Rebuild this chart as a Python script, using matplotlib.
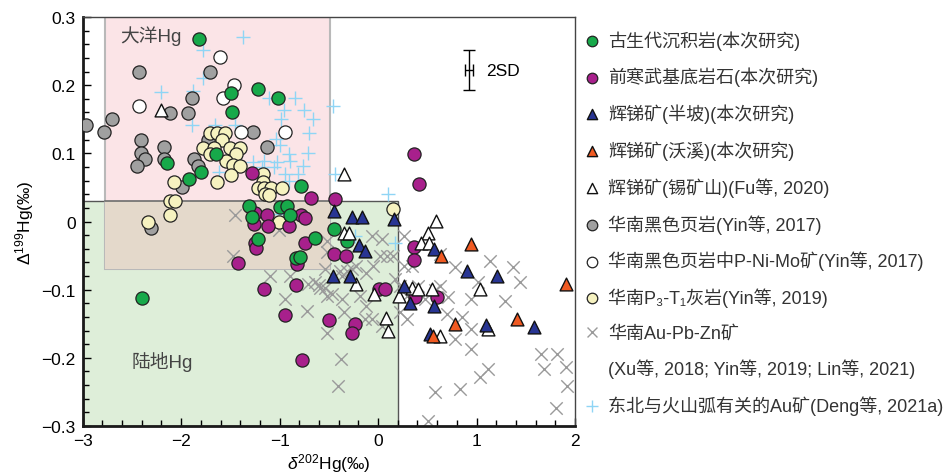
import matplotlib
matplotlib.use("Agg")
import matplotlib.pyplot as plt
from matplotlib.patches import Rectangle
from matplotlib.lines import Line2D
from matplotlib.ticker import MultipleLocator, FuncFormatter

plt.rcParams['font.family'] = ['Liberation Sans', 'Noto Sans CJK SC', 'DejaVu Sans']
plt.rcParams['mathtext.fontset'] = 'custom'
plt.rcParams['mathtext.rm'] = 'Liberation Sans'
plt.rcParams['mathtext.it'] = 'Liberation Sans:italic'

# 古生代沉积岩(本次研究)
green_x = [-1.82, -1.49, -1.22, -1.02, -1.48, -1.65, -2.14, -1.80, -1.92, -0.78, -1.31, -1.28,
           -1.00, -0.93, -0.89, -1.22, -0.64, -0.83, -0.79, -2.40, -0.45, -0.32]
green_y = [0.268, 0.189, 0.195, 0.181, 0.160, 0.099, 0.086, 0.073, 0.062, 0.052, 0.023, 0.006,
           0.021, 0.023, 0.009, -0.025, -0.024, -0.054, -0.052, -0.112, -0.011, -0.029]

# 前寒武基底岩石(本次研究)
mag_x = [-1.28, -0.68, -0.44, 0.36, 0.42, -1.25, -1.26, -1.13, -1.12, -0.90, -0.78, -0.74,
         -1.25, -1.24, -0.74, -0.82, -1.42, -0.45, -0.33, -1.16, -0.83, -0.95, -0.50, -0.23,
         -0.27, 0.01, 0.07, 0.36, 0.36, 0.37, 0.60, -0.77]
mag_y = [0.071, 0.034, 0.033, 0.099, 0.055, 0.013, -0.004, 0.010, -0.007, -0.006, 0.010, 0.005,
         -0.031, -0.039, -0.031, -0.062, -0.061, -0.048, -0.051, -0.099, -0.093, -0.137, -0.144, -0.151,
         -0.164, -0.099, -0.099, -0.037, -0.056, -0.111, -0.111, -0.203]

# 辉锑矿(半坡)(本次研究)
bp_x = [-0.45, -0.27, -0.16, 0.16, -0.19, -0.13, -0.46, -0.29, 0.26, 0.57, 0.32, 0.57, 0.53,
        1.21, 0.90, 1.10, 1.58]
bp_y = [0.016, 0.006, 0.006, 0.003, -0.034, -0.043, -0.080, -0.080, -0.094, -0.040, -0.119, -0.124, -0.165,
        -0.080, -0.073, -0.152, -0.155]

# 辉锑矿(沃溪)(本次研究)
wx_x = [0.64, 0.94, 1.91, 1.41, 0.78, 0.56]
wx_y = [-0.051, -0.033, -0.092, -0.143, -0.150, -0.168]

# 辉锑矿(锡矿山)(Fu等, 2020)
xks_x = [-2.21, -0.35, 0.59, 0.51, 0.44, 0.52, -0.35, -0.30, -0.22, -0.04, 0.21, 0.34, 0.41,
         0.55, 0.08, 0.10, 0.63, 1.04, 1.12]
xks_y = [0.163, 0.070, 0.001, -0.017, -0.031, -0.031, -0.017, -0.017, -0.092, -0.106, -0.109, -0.097, -0.099,
         -0.099, -0.141, -0.160, -0.168, -0.099, -0.157]

# 华南黑色页岩(Yin等, 2017)
shale_x = [-2.97, -2.78, -2.70, -2.43, -2.41, -2.41, -2.37, -2.45, -2.17, -2.17, -2.11, -1.93,
           -1.89, -1.71, -1.87, -1.83, -1.73, -1.99, -1.27, -1.13, -2.31]
shale_y = [0.141, 0.131, 0.150, 0.220, 0.120, 0.100, 0.091, 0.082, 0.110, 0.091, 0.159, 0.159,
           0.181, 0.220, 0.091, 0.082, 0.120, 0.050, 0.131, 0.110, -0.010]

# 华南黑色页岩中P-Ni-Mo矿(Yin等, 2017)
pnimo_x = [-1.61, -1.46, -1.58, -2.43, -1.39, -0.95]
pnimo_y = [0.241, 0.200, 0.181, 0.169, 0.131, 0.131]

# 华南P3-T1灰岩(Yin等, 2019)
lime_x = [-1.71, -1.64, -1.55, -1.59, -1.78, -1.67, -1.50, -1.40, -1.71, -1.44, -1.54, -1.47,
          -1.40, -1.49, -1.64, -2.07, -1.17, -1.17, -1.22, -1.16, -1.09, -0.98, -1.15, -1.11,
          -2.11, -2.06, -2.11, -2.34, -1.01, 0.15]
lime_y = [0.130, 0.130, 0.130, 0.119, 0.108, 0.108, 0.108, 0.108, 0.099, 0.099, 0.089, 0.083,
          0.081, 0.068, 0.058, 0.058, 0.069, 0.058, 0.049, 0.049, 0.049, 0.049, 0.040, 0.039,
          0.030, 0.030, 0.009, -0.001, -0.001, 0.018]

# 华南Au-Pb-Zn矿
aupbzn_x = [-1.45, -1.47, -1.10, -0.89, -0.95, -0.72, -1.01, -0.54, -0.64, -0.52, -0.52, -0.54,
            -0.39, -0.71, -0.60, -0.52, -0.37, -0.32, -0.27, -0.22, -0.12, -0.05, 0.02, 0.09,
            0.15, -0.06, 0.04, 0.26, 0.17, 0.22, 0.29, 0.34, 0.26, 0.41, 0.63, 0.58, 0.71,
            -0.18, -0.12, -0.06, 0.22, 0.29, -0.35, -0.59, -0.47, -0.37, -0.13, 0.04, -0.52,
            -0.41, -0.38, 0.51, 1.81, 0.63, 0.78, 1.01, 1.14, 1.37, 1.44, 1.29, 0.94, 0.85,
            0.70, 0.94, 1.12, 0.83, 1.04, 0.58, 1.65, 1.82, 1.91, 1.92, 1.68, 0.34, 0.48,
            0.94, 0.78]
aupbzn_y = [0.009, -0.051, -0.080, -0.080, -0.114, -0.131, -0.012, -0.097, -0.089, -0.028, -0.045, -0.070,
            -0.072, -0.092, -0.093, -0.109, -0.080, -0.072, -0.070, -0.065, -0.075, -0.065, -0.050, -0.050,
            -0.050, -0.021, -0.026, -0.021, -0.084, -0.094, -0.109, -0.065, -0.065, -0.094, -0.094, -0.101, -0.111,
            -0.109, -0.124, -0.143, -0.133, -0.143, -0.133, -0.097, -0.106, -0.114, -0.143, -0.153, -0.163,
            -0.241, -0.202, -0.293, -0.273, -0.048, -0.067, -0.089, -0.058, -0.067, -0.089, -0.117, -0.114, -0.140,
            -0.136, -0.187, -0.216, -0.246, -0.228, -0.250, -0.194, -0.194, -0.213, -0.241, -0.216, -0.111, -0.114,
            -0.158, -0.172]

# 东北与火山弧有关的Au矿(Deng等, 2021a)
ne_x = [-1.37, -1.78, -1.78, -2.20, -1.88, -1.11, -0.84, -0.96, -0.75, -0.66, -0.46, -1.89,
        -1.66, -1.45, -0.99, -0.70, -1.04, -1.00, -0.91, -0.71, -1.27, -1.16, -1.03, -0.89,
        -1.18, -1.06, -0.76, -0.95, -0.81, -0.91, -1.62, -0.44, 0.10, 0.17, -0.23, -1.00]
ne_y = [0.270, 0.251, 0.210, 0.190, 0.192, 0.181, 0.181, 0.163, 0.163, 0.150, 0.170, 0.141,
        0.141, 0.141, 0.150, 0.130, 0.121, 0.112, 0.099, 0.100, 0.088, 0.089, 0.088, 0.089,
        0.080, 0.080, 0.081, 0.070, 0.070, 0.060, 0.072, 0.070, 0.040, -0.031, -0.021, 0.011]

# source fields
ocean_box = (-2.77, -0.49, -0.07, 0.30)
land_box = (-3.0, 0.20, -0.30, 0.03)

fig = plt.figure(figsize=(9.52, 4.77), dpi=100)
ax = fig.add_axes([0.0869, 0.1048, 0.5171, 0.8574])

x0, x1, y0, y1 = land_box
ax.add_patch(Rectangle((x0, y0), x1 - x0, y1 - y0, facecolor='#deeed9', edgecolor='#555555',
                       lw=1.0, zorder=0))
x0, x1, y0, y1 = ocean_box
ax.add_patch(Rectangle((x0, y0), x1 - x0, y1 - y0, facecolor='#fbe4e7', edgecolor='#b9b9b9',
                       lw=1.5, zorder=0.5))
# overlap of the two fields
ox0, ox1 = max(ocean_box[0], land_box[0]), min(ocean_box[1], land_box[1])
oy0, oy1 = max(ocean_box[2], land_box[2]), min(ocean_box[3], land_box[3])
ax.add_patch(Rectangle((ox0, oy0), ox1 - ox0, oy1 - oy0, facecolor='#e4d9cb', edgecolor='none',
                       zorder=0.6))
ax.plot([ocean_box[0], ocean_box[1]], [land_box[3]] * 2, color='#6d6d6d', lw=1.2, zorder=0.7)

ax.text(-2.62, 0.274, '大洋Hg', fontsize=13.5, color='#444444', va='center')
ax.text(-2.50, -0.204, '陆地Hg', fontsize=13.5, color='#444444', va='center')

ms = 90
h_x = ax.scatter(aupbzn_x, aupbzn_y, marker='x', s=80, color='#9a9a9a', linewidths=1.0, zorder=2)
h_ne = ax.scatter(ne_x, ne_y, marker='+', s=100, color='#8fd5f5', linewidths=1.0, zorder=3)
h_sh = ax.scatter(shale_x, shale_y, s=ms, facecolor='#a0a0a0', edgecolor='#222222', linewidths=0.9, zorder=4)
h_pm = ax.scatter(pnimo_x, pnimo_y, s=ms, facecolor='white', edgecolor='#222222', linewidths=0.9, zorder=5)
h_li = ax.scatter(lime_x, lime_y, s=ms, facecolor='#f6f2c0', edgecolor='#222222', linewidths=0.9, zorder=6)
h_mg = ax.scatter(mag_x, mag_y, s=ms, facecolor='#a8208c', edgecolor='#222222', linewidths=0.9, zorder=7)
h_gr = ax.scatter(green_x, green_y, s=ms, facecolor='#17a94a', edgecolor='#222222', linewidths=0.9, zorder=8)
h_xk = ax.scatter(xks_x, xks_y, marker='^', s=85, facecolor='white', edgecolor='#111111', linewidths=1.0, zorder=9)
h_bp = ax.scatter(bp_x, bp_y, marker='^', s=85, facecolor='#283593', edgecolor='#111111', linewidths=1.0, zorder=9)
h_wx = ax.scatter(wx_x, wx_y, marker='^', s=85, facecolor='#f05a22', edgecolor='#111111', linewidths=1.0, zorder=9)

# 2SD
ax.errorbar(0.92, 0.222, yerr=0.029, xerr=0.042, color='black', lw=1.0, capsize=4, capthick=1.0, zorder=10)
ax.text(1.10, 0.221, '2SD', fontsize=12.5, va='center')

ax.set_xlim(-3, 2)
ax.set_ylim(-0.3, 0.3)
ax.xaxis.set_major_locator(MultipleLocator(1))
ax.xaxis.set_minor_locator(MultipleLocator(0.2))
ax.yaxis.set_major_locator(MultipleLocator(0.1))
ax.yaxis.set_minor_locator(MultipleLocator(0.02))
fmt = FuncFormatter(lambda v, p: ('%g' % round(v, 2)).replace('-', '\u2212'))
ax.xaxis.set_major_formatter(fmt)
ax.yaxis.set_major_formatter(fmt)
ax.tick_params(which='both', direction='in', top=False, right=False, labelsize=12.5, width=1.0)
ax.tick_params(which='major', length=6, pad=5)
ax.tick_params(which='minor', length=4)
for s in ['left', 'bottom']:
    ax.spines[s].set_linewidth(2.0)
    ax.spines[s].set_color('#1a1a1a')
for s in ['top', 'right']:
    ax.spines[s].set_linewidth(1.0)
    ax.spines[s].set_color('#444444')

ax.set_xlabel(r'$\mathit{\delta}^{202}$Hg(‰)', fontsize=12.5, labelpad=2)
ax.set_ylabel(r'$\Delta^{199}$Hg(‰)', fontsize=12.5, labelpad=4)

blank = Line2D([], [], linestyle='none')
handles = [h_gr, h_mg, h_bp, h_wx, h_xk, h_sh, h_pm, h_li, h_x, blank, h_ne]
labels = ['古生代沉积岩(本次研究)', '前寒武基底岩石(本次研究)', '辉锑矿(半坡)(本次研究)',
          '辉锑矿(沃溪)(本次研究)', '辉锑矿(锡矿山)(Fu等, 2020)', '华南黑色页岩(Yin等, 2017)',
          '华南黑色页岩中P-Ni-Mo矿(Yin等, 2017)', '华南P\u2083-T\u2081灰岩(Yin等, 2019)',
          '华南Au-Pb-Zn矿', '(Xu等, 2018; Yin等, 2019; Lin等, 2021)',
          '东北与火山弧有关的Au矿(Deng等, 2021a)']
leg = ax.legend(handles, labels, loc='upper left', bbox_to_anchor=(1.0, 0.99), frameon=False,
                fontsize=13, markerscale=0.8, handlelength=0.9, handletextpad=0.45,
                labelspacing=0.95, borderaxespad=0.1)
for t in leg.get_texts():
    t.set_color('#333333')

fig.savefig('out.png', dpi=100)
